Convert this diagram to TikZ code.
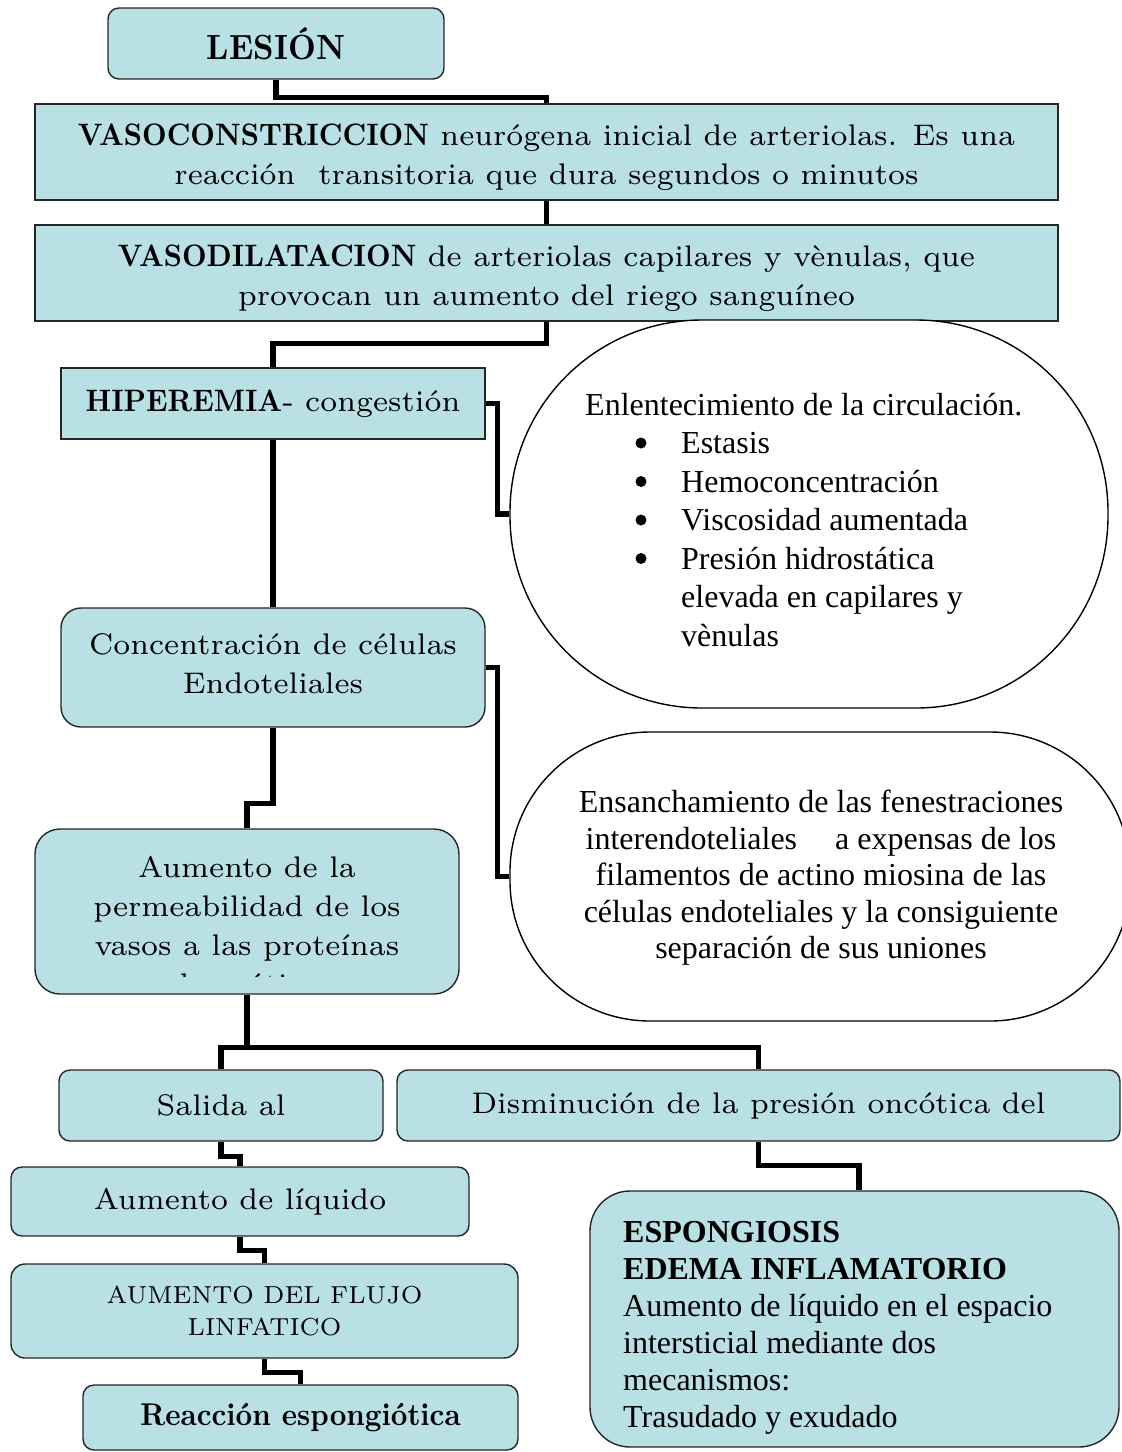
\documentclass[tikz,border=0pt]{standalone}
\usepackage{fontspec}
\setmainfont{lmroman7-regular.otf}[BoldFont=lmroman10-bold.otf]
\newfontfamily\bfam{lmroman10-bold.otf}[FakeStretch=0.92]
\newfontfamily\tnr{Liberation Serif}
\definecolor{boxfill}{RGB}{185,224,229}
% bold capitals inside the regular box text
\newcommand\bc[1]{{\bfam\fontsize{31}{39}\selectfont #1}}
\tikzset{
  boxbase/.style={draw=black!85, line width=1.4pt, fill=boxfill, inner sep=0pt,
    align=center, text=black},
  sqbox/.style={boxbase},
  rbox/.style={boxbase, rounded corners=11pt},
  pill/.style={draw=black, line width=1.4pt, fill=white, inner sep=0pt},
  conn/.style={draw=black, line width=5.5pt, line join=miter},
  rg/.style={font=\fontsize{29.8}{39}\selectfont, align=center, inner sep=0pt},
  tn/.style={font=\tnr\fontsize{32}{38.5}\selectfont, inner sep=0pt},
  dot/.style={circle, fill=black, inner sep=0pt, minimum size=11pt},
}
\begin{document}
\begin{tikzpicture}[x=1pt,y=-1pt]
\useasboundingbox (0,0) rectangle (1122,1452);

% ---- main column ----
\node[rbox, minimum width=336pt, minimum height=71pt,
  font=\bfam\fontsize{35}{40}\selectfont] (lesion) at (276,43.5) {LESIÓN};

\node[sqbox, minimum width=1023pt, minimum height=96pt] (vaso) at (546.5,152) {};
\node[rg] (vasotxt) at ([yshift=-5pt]vaso.center)
  {\bc{VASOCONSTRICCION} neurógena inicial de arteriolas. Es una\\
   reacción\ \ transitoria que dura segundos o minutos};

\node[sqbox, minimum width=1023pt, minimum height=96pt] (vasod) at (546.5,273) {};
\node[rg] (vasodtxt) at ([yshift=-5pt]vasod.center)
  {\bc{VASODILATACION} de arteriolas capilares y vènulas, que\\
   provocan un aumento del riego sanguíneo};

\node[sqbox, rg, minimum width=424pt, minimum height=71pt] (hiper) at (273,403.5)
  {\bc{HIPEREMIA}- congestión};

\node[rbox, rounded corners=20pt, minimum width=424pt, minimum height=119pt]
  (conc) at (273,667.5) {};
\node[rg] (conctxt) at ([yshift=4pt]conc.center)
  {Concentración de células\\ Endoteliales};

\node[rbox, rounded corners=25pt, minimum width=424pt, minimum height=165pt]
  (aum) at (247,911.5) {};
\begin{scope}
  \clip (37,831) rectangle (457,976);
  \node[rg] (aumtxt) at (247,928)
    {Aumento de la\\ permeabilidad de los\\ vasos a las proteínas\\ plasmáticas};
\end{scope}

\node[rbox, rg, minimum width=324pt, minimum height=71pt] (salida) at (221,1105.5)
  {Salida al};
\node[rbox, rg, minimum width=723pt, minimum height=71pt] (dismin) at (758.5,1105.5)
  {Disminución de la presión oncótica del};

\node[rbox, rg, minimum width=458pt, minimum height=69pt] (liq) at (240,1201.5)
  {Aumento de líquido};
\node[rbox, rounded corners=14pt, minimum width=507pt, minimum height=94pt,
  font=\fontsize{24.6}{32}\selectfont] (flujo) at (264.5,1311)
  {AUMENTO DEL FLUJO\\ LINFATICO};
\node[rbox, minimum width=435pt, minimum height=65pt,
  font=\bfam\fontsize{31.5}{36}\selectfont] (reac) at (300.5,1417.5)
  {Reacción espongiótica};

% ---- right side ----
\node[rbox, rounded corners=40pt, minimum width=529pt, minimum height=256pt]
  (espon) at (854.5,1319) {};
\node[tn, font=\tnr\fontsize{32}{37}\selectfont, align=left, anchor=west]
  (espontxt) at (623,1328)
  {\textbf{ESPONGIOSIS}\\ \textbf{EDEMA INFLAMATORIO}\\
   Aumento de líquido en el espacio\\ intersticial mediante dos\\
   mecanismos:\\ Trasudado y exudado};

\node[pill, rounded corners=192pt, minimum width=598pt, minimum height=388pt]
  (ell1) at (809,514) {};
\node[tn, align=left, anchor=west] (ell1txt) at (585,520)
  {Enlentecimiento de la circulación.\\
   \hspace*{96pt}Estasis\\
   \hspace*{96pt}Hemoconcentración\\
   \hspace*{96pt}Viscosidad aumentada\\
   \hspace*{96pt}Presión hidrostática\\
   \hspace*{96pt}elevada en capilares y\\
   \hspace*{96pt}vènulas};
% list bullets
\node[dot] (bul1) at (641,443) {};
\node[dot] (bul2) at (641,481.5) {};
\node[dot] (bul3) at (641,520) {};
\node[dot] (bul4) at (641,558.5) {};

\node[pill, rounded corners=140pt, minimum width=620pt, minimum height=289pt]
  (ell2) at (820,876.5) {};
\node[tn, font=\tnr\fontsize{32}{36.5}\selectfont, align=center] (ell2txt) at (821,878)
  {Ensanchamiento de las fenestraciones\\
   interendoteliales\hspace{30pt} a expensas de los\\
   filamentos de actino miosina de las\\
   células endoteliales y la consiguiente\\
   separación de sus uniones};

% ---- connectors ----
\draw[conn] (lesion.south) -- ++(0,18) -| (vaso.north);
\draw[conn] (vaso.south) -- (vasod.north);
\draw[conn] (vasod.south) -- ++(0,22) -| (hiper.north);
\draw[conn] (hiper.east) -- ++(12,0) |- (ell1.west);
\draw[conn] (hiper.south) -- (conc.north);
\draw[conn] (conc.east) -- ++(12,0) |- (ell2.west);
\draw[conn] (conc.south) -- ++(0,76) -| (aum.north);
\draw[conn] (aum.south) -- ++(0,53) coordinate (fork);
\draw[conn] (salida.north) |- (fork) -| (dismin.north);
\draw[conn] (salida.south) -- ++(0,15) -| (liq.north);
\draw[conn] (liq.south) -- ++(0,14) -| (flujo.north);
\draw[conn] (flujo.south) -- ++(0,14) -| (reac.north);
\draw[conn] (dismin.south) -- ++(0,24) -| ([xshift=4.5pt]espon.north);
\end{tikzpicture}
\end{document}
